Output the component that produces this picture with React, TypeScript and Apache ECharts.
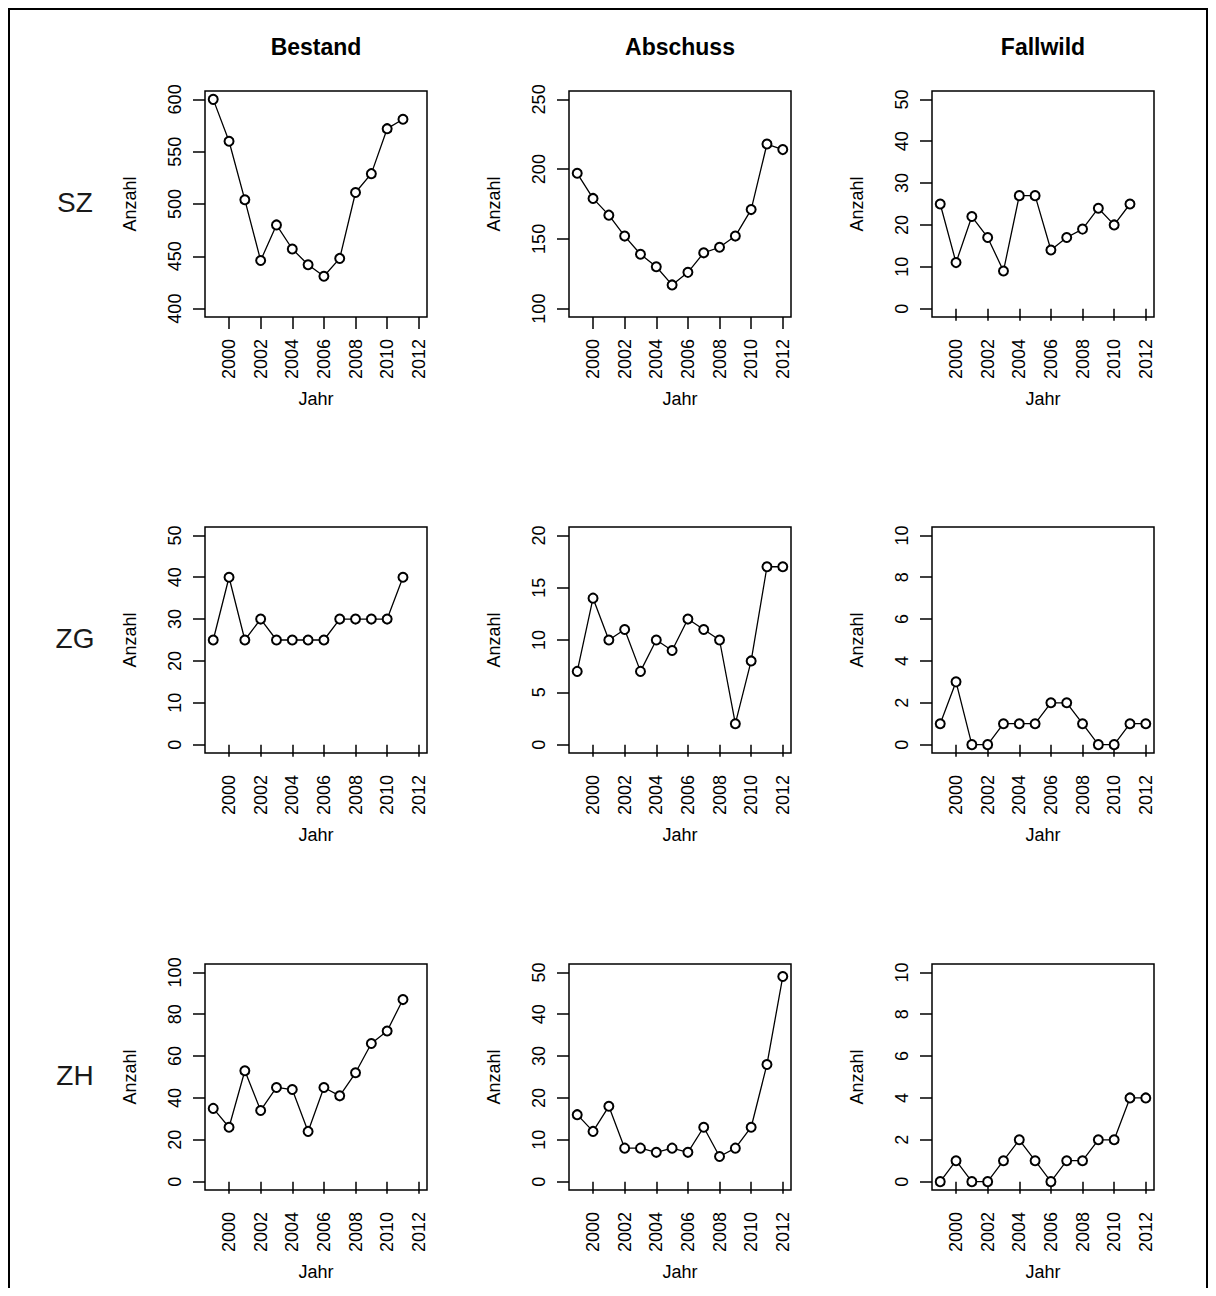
import React, { useEffect, useRef } from "react";
import * as echarts from "echarts";

const years = [1999, 2000, 2001, 2002, 2003, 2004, 2005, 2006, 2007, 2008, 2009, 2010, 2011, 2012];
const xTicks = [2000, 2002, 2004, 2006, 2008, 2010, 2012];
const columnTitles = ["Bestand", "Abschuss", "Fallwild"];
const rowTitles = ["SZ", "ZG", "ZH"];

const szBestand = [600, 560, 504, 446, 480, 457, 442, 431, 448, 511, 529, 572, 581];
const szAbschuss = [197, 179, 167, 152, 139, 130, 117, 126, 140, 144, 152, 171, 218, 214];
const szFallwild = [25, 11, 22, 17, 9, 27, 27, 14, 17, 19, 24, 20, 25];
const zgBestand = [25, 40, 25, 30, 25, 25, 25, 25, 30, 30, 30, 30, 40];
const zgAbschuss = [7, 14, 10, 11, 7, 10, 9, 12, 11, 10, 2, 8, 17, 17];
const zgFallwild = [1, 3, 0, 0, 1, 1, 1, 2, 2, 1, 0, 0, 1, 1];
const zhBestand = [35, 26, 53, 34, 45, 44, 24, 45, 41, 52, 66, 72, 87];
const zhAbschuss = [16, 12, 18, 8, 8, 7, 8, 7, 13, 6, 8, 13, 28, 49];
const zhFallwild = [0, 1, 0, 0, 1, 2, 1, 0, 1, 1, 2, 2, 4, 4];

const yTicksSZBestand = [400, 450, 500, 550, 600];
const yTicksSZAbschuss = [100, 150, 200, 250];
const yTicks0to50 = [0, 10, 20, 30, 40, 50];
const yTicks0to20 = [0, 5, 10, 15, 20];
const yTicks0to10 = [0, 2, 4, 6, 8, 10];
const yTicks0to100 = [0, 20, 40, 60, 80, 100];

const panelValues = [
  szBestand, szAbschuss, szFallwild,
  zgBestand, zgAbschuss, zgFallwild,
  zhBestand, zhAbschuss, zhFallwild,
];
const panelTicks = [
  yTicksSZBestand, yTicksSZAbschuss, yTicks0to50,
  yTicks0to50, yTicks0to20, yTicks0to10,
  yTicks0to100, yTicks0to50, yTicks0to10,
];

const FONT = "'Liberation Sans', Arial, sans-serif";
const colLefts = [197, 561, 924];
const rowTops = [83, 519, 956];
const PW = 222;
const PH = 226;

function pad(lo: number, hi: number) {
  const r = hi - lo;
  return [lo - 0.04 * r, hi + 0.04 * r];
}

export default function App() {
  const ref = useRef<HTMLDivElement>(null);
  useEffect(() => {
    if (!ref.current) return;
    const chart = echarts.init(ref.current, undefined, { renderer: "svg" });
    const grids: any[] = [];
    const xAxes: any[] = [];
    const yAxes: any[] = [];
    const series: any[] = [];
    const [xMin, xMax] = pad(years[0], years[years.length - 1]);
    panelValues.forEach((vals, i) => {
      const r = Math.floor(i / 3);
      const c = i % 3;
      const ticks = panelTicks[i];
      const [yMin, yMax] = pad(ticks[0], ticks[ticks.length - 1]);
      grids.push({
        left: colLefts[c],
        top: rowTops[r],
        width: PW,
        height: PH,
        show: true,
        borderColor: "#000",
        borderWidth: 1.5,
        backgroundColor: "transparent",
        containLabel: false,
      });
      xAxes.push({
        type: "value",
        gridIndex: i,
        min: xMin,
        max: xMax,
        name: "Jahr",
        nameLocation: "middle",
        nameGap: 73,
        nameTextStyle: { fontFamily: FONT, fontSize: 18, color: "#000" },
        axisLine: { show: false },
        splitLine: { show: false },
        axisTick: {
          show: true,
          length: 12,
          customValues: xTicks,
          lineStyle: { color: "#000", width: 1.5 },
        },
        axisLabel: {
          show: true,
          rotate: 90,
          margin: 22,
          customValues: xTicks,
          fontFamily: FONT,
          fontSize: 18,
          color: "#000",
          formatter: (v: number) => String(v),
        },
      });
      yAxes.push({
        type: "value",
        gridIndex: i,
        min: yMin,
        max: yMax,
        name: "Anzahl",
        nameLocation: "middle",
        nameGap: 66,
        nameRotate: 90,
        nameTextStyle: { fontFamily: FONT, fontSize: 18, color: "#000" },
        axisLine: { show: false },
        splitLine: { show: false },
        axisTick: {
          show: true,
          length: 12,
          customValues: ticks,
          lineStyle: { color: "#000", width: 1.5 },
        },
        axisLabel: {
          show: true,
          rotate: 90,
          margin: 21,
          customValues: ticks,
          fontFamily: FONT,
          fontSize: 18,
          color: "#000",
          formatter: (v: number) => String(v),
        },
      });
      series.push({
        type: "line",
        xAxisIndex: i,
        yAxisIndex: i,
        data: vals.map((v, k) => [years[k], v]),
        symbol: "emptyCircle",
        symbolSize: 9,
        showSymbol: true,
        lineStyle: { color: "#000", width: 1.3 },
        itemStyle: { color: "#000", borderColor: "#000", borderWidth: 1.3 },
        emphasis: { disabled: true },
        silent: true,
      });
    });

    const graphic: any[] = [
      {
        type: "polyline",
        shape: { points: [[1, 1290], [1, 1], [1199, 1], [1199, 1290]] },
        style: { stroke: "#000", lineWidth: 2, fill: "none" },
        silent: true,
      },
    ];
    columnTitles.forEach((t, c) => {
      graphic.push({
        type: "text",
        x: colLefts[c] + PW / 2,
        y: 39,
        style: {
          text: t,
          fontFamily: FONT,
          fontSize: 23,
          fontWeight: "bold",
          fill: "#000",
          align: "center",
          verticalAlign: "middle",
        },
      });
    });
    rowTitles.forEach((t, r) => {
      graphic.push({
        type: "text",
        x: 67,
        y: rowTops[r] + PH / 2 - 2,
        style: {
          text: t,
          fontFamily: FONT,
          fontSize: 28,
          fill: "#1a1a1a",
          align: "center",
          verticalAlign: "middle",
        },
      });
    });

    chart.setOption({
      animation: false,
      backgroundColor: "#fff",
      grid: grids,
      xAxis: xAxes,
      yAxis: yAxes,
      series,
      graphic,
    });
    return () => chart.dispose();
  }, []);
  return <div ref={ref} style={{ width: 1200, height: 1280 }} />;
}
